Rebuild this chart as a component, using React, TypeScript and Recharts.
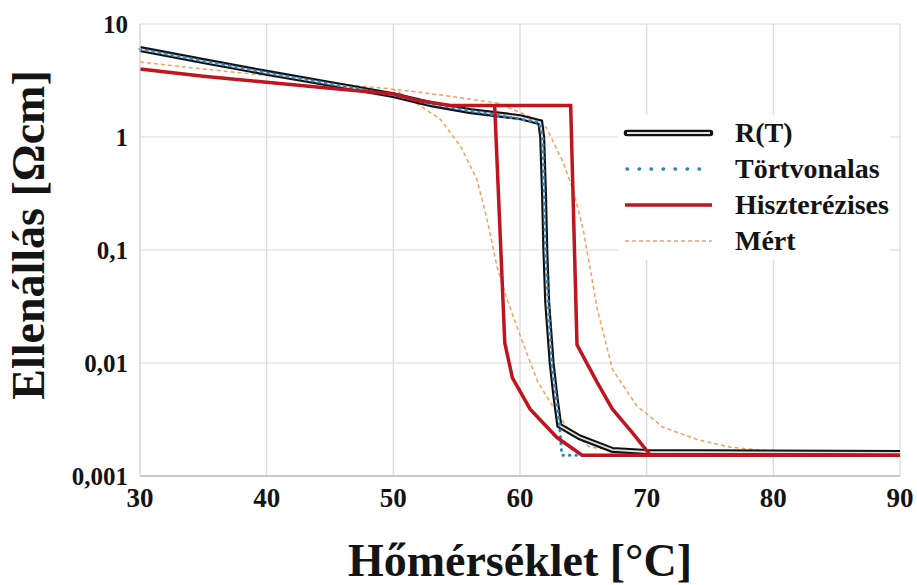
import { LineChart, Line, XAxis, YAxis, CartesianGrid, Legend, Label } from "recharts";

const FONT = '"Liberation Serif", "Times New Roman", serif';
const INK = "#141414";

const X_TICKS = [30, 40, 50, 60, 70, 80, 90];
const Y_TICKS = [0.001, 0.01, 0.1, 1, 10];

// R(T) – mért illesztés
const RT_T = [30, 35, 40, 45, 50, 53, 56, 60, 61.6, 61.75, 61.9, 62.0, 62.15, 62.5, 62.8, 63.1, 64.7, 67.3, 70, 90];
const RT_R = [6.0, 4.7, 3.7, 2.95, 2.35, 1.95, 1.7, 1.5, 1.35, 1.0, 0.3, 0.1, 0.034, 0.01, 0.005, 0.0028, 0.0022, 0.0017, 0.00163, 0.0016];

// Törtvonalas közelítés
const TV_T = [30, 40, 50, 53, 61.5, 61.8, 62.0, 62.5, 63.1, 63.3, 90];
const TV_R = [6.0, 3.7, 2.35, 1.95, 1.35, 1.0, 0.1, 0.01, 0.003, 0.00153, 0.00153];

// Hiszterézises modell (fűtés, majd hűtés)
const HY_T = [30, 35, 40, 45, 50, 52, 54.5, 64.0, 64.5, 66.1, 67.3, 68.9, 70.25, 90, 64.9, 62.9, 60.8, 59.4, 58.8, 58.0];
const HY_R = [4.0, 3.45, 3.05, 2.7, 2.4, 2.1, 1.9, 1.9, 0.0145, 0.0067, 0.0039, 0.0024, 0.00155, 0.00153, 0.00153, 0.0022, 0.0039, 0.0074, 0.015, 1.9];

// Mért görbe (fűtés, majd hűtés)
const ME_T = [30, 35, 40, 45, 50, 52, 55, 58.2, 60, 61.2, 62.1, 63.4, 64.2, 65, 66.1, 67.3, 69.2, 71.3, 74, 76.6, 80.5, 90,
  70, 65.5, 63.7, 62.5, 61.4, 60.2, 59.0, 58.2, 57.4, 56.6, 55.3, 53.7, 52.1, 50];
const ME_R = [4.6, 4.0, 3.5, 3.0, 2.65, 2.5, 2.25, 2.0, 1.65, 1.45, 1.2, 0.6, 0.34, 0.15, 0.03, 0.0088, 0.0042, 0.0027, 0.0021, 0.0018, 0.00163, 0.0016,
  0.0016, 0.0018, 0.0027, 0.0043, 0.0068, 0.0153, 0.036, 0.07, 0.186, 0.42, 0.83, 1.44, 1.9, 2.65];

const zip = (ts: number[], rs: number[]) => ts.map((t, i) => ({ t, r: rs[i] }));

const rtData = zip(RT_T, RT_R);
const tvData = zip(TV_T, TV_R);
const hyData = zip(HY_T, HY_R);
const meData = zip(ME_T, ME_R);

const COLORS = {
  rt: "#111111",
  rtInner: "#e2e2e2",
  tv: "#2b86c2",
  hy: "#c0141f",
  me: "#f0a060",
};

const fmt = (v: number) => String(v).replace(".", ",");

const YTitle = ({ viewBox }: any) => {
  const cy = viewBox.y + viewBox.height / 2 - 15;
  return (
    <text
      transform={`translate(44,${cy}) rotate(-90)`}
      textAnchor="middle"
      fontFamily={FONT}
      fontWeight={700}
      fontSize={46}
      fill={INK}
    >
      Ellenállás [Ωcm]
    </text>
  );
};

const LegendBox = () => {
  const rows = [
    { name: "R(T)", kind: "rt" },
    { name: "Törtvonalas", kind: "tv" },
    { name: "Hiszterézises", kind: "hy" },
    { name: "Mért", kind: "me" },
  ];
  return (
    <div style={{ background: "#fff", width: 272, height: 145 }}>
      {rows.map((row) => (
        <div key={row.name} style={{ height: 36, display: "flex", alignItems: "center" }}>
          <svg width={117} height={20}>
            {row.kind === "rt" && (
              <>
                <line x1={9} x2={92} y1={10} y2={10} stroke={COLORS.rt} strokeWidth={6.5} strokeLinecap="round" />
                <line x1={9} x2={92} y1={10} y2={10} stroke={COLORS.rtInner} strokeWidth={2} />
              </>
            )}
            {row.kind === "tv" && (
              <line x1={9} x2={92} y1={10} y2={10} stroke={COLORS.tv} strokeWidth={3.5}
                strokeDasharray="0.5 11.5" strokeLinecap="round" />
            )}
            {row.kind === "hy" && (
              <line x1={7} x2={94} y1={10} y2={10} stroke={COLORS.hy} strokeWidth={3.5} />
            )}
            {row.kind === "me" && (
              <line x1={7} x2={94} y1={10} y2={10} stroke="#d8a488" strokeWidth={1.5} strokeDasharray="4 3" />
            )}
          </svg>
          <span style={{ fontFamily: FONT, fontWeight: 700, fontSize: 28, color: INK, lineHeight: "36px" }}>
            {row.name}
          </span>
        </div>
      ))}
    </div>
  );
};

export default function App() {
  return (
    <div style={{ position: "absolute", left: 0, top: 0, width: 917, height: 585, background: "#fff" }}>
      <LineChart width={917} height={585} margin={{ top: 24, right: 17, bottom: 0, left: 0 }}>
        <CartesianGrid stroke="#d9d9d9" strokeWidth={1.2} />
        <XAxis
          type="number"
          dataKey="t"
          domain={[30, 90]}
          ticks={X_TICKS}
          allowDuplicatedCategory={false}
          height={109}
          axisLine={{ stroke: "#bdbdbd", strokeWidth: 1.5 }}
          tickLine={false}
          tickMargin={6}
          tick={{ fontSize: 27, fontFamily: FONT, fontWeight: 700, fill: INK }}
        >
          <Label
            value="Hőmérséklet [°C]"
            position="insideBottom"
            offset={9}
            style={{ fontSize: 46, fontFamily: FONT, fontWeight: 700, fill: INK }}
          />
        </XAxis>
        <YAxis
          scale="log"
          domain={[0.001, 10]}
          allowDataOverflow
          ticks={Y_TICKS}
          tickFormatter={fmt}
          width={140}
          axisLine={{ stroke: "#d9d9d9" }}
          tickLine={false}
          tickMargin={6}
          tick={{ fontSize: 25, fontFamily: FONT, fontWeight: 700, fill: INK }}
        >
          <Label content={<YTitle />} />
        </YAxis>
        <Legend
          layout="horizontal"
          align="center"
          verticalAlign="middle"
          content={<LegendBox />}
          wrapperStyle={{ position: "absolute", left: 618, top: 115, width: 272, height: 145 }}
        />
        <Line data={meData} dataKey="r" name="Mért" type="linear" stroke={COLORS.me}
          strokeWidth={1.5} strokeDasharray="4 3" dot={false} isAnimationActive={false} />
        <Line data={rtData} dataKey="r" name="R(T)" type="linear" stroke={COLORS.rt}
          strokeWidth={6} dot={false} isAnimationActive={false} />
        <Line data={rtData} dataKey="r" name="R(T) belső" type="linear" stroke={COLORS.rtInner}
          strokeWidth={1.8} dot={false} legendType="none" isAnimationActive={false} />
        <Line data={tvData} dataKey="r" name="Törtvonalas" type="linear" stroke={COLORS.tv}
          strokeWidth={3} strokeDasharray="0.5 6" strokeLinecap="round" dot={false} isAnimationActive={false} />
        <Line data={hyData} dataKey="r" name="Hiszterézises" type="linear" stroke={COLORS.hy}
          strokeWidth={3.5} dot={false} isAnimationActive={false} />
      </LineChart>
    </div>
  );
}
